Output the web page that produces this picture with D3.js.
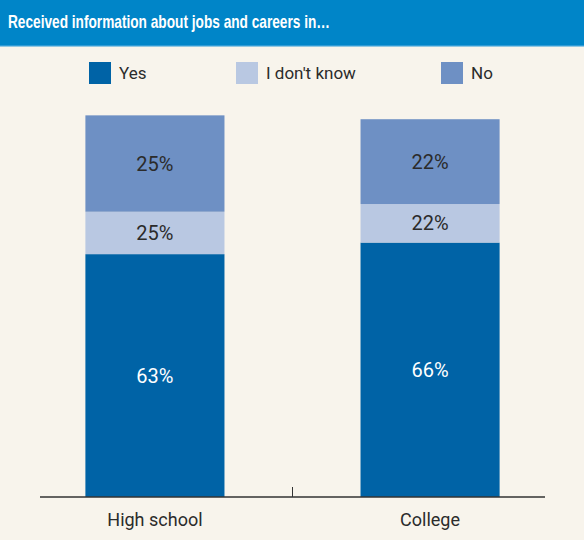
<!DOCTYPE html>
<html>
<head>
<meta charset="utf-8">
<script src="https://cdn.jsdelivr.net/npm/d3@7"></script>
<style>
  body { margin: 0; background: #f8f4ec; }
  svg { display: block; }
</style>
</head>
<body>
<svg id="chart" width="584" height="540"></svg>
<script>
// data
var categories = ["High school", "College"]
var seriesNames = ["Yes", "I don't know", "No"]
var yesValues = [63, 66]
var idkValues = [11, 10]
var noValues = [25, 22]
// printed labels as they appear on the chart
var yesLabels = ["63%", "66%"]
var idkLabels = ["25%", "22%"]
var noLabels = ["25%", "22%"]

var colors = ["#0063a6", "#b9c8e2", "#6e90c4"]
var labelColors = ["#ffffff", "#2b2b2b", "#2b2b2b"]

var svg = d3.select("#chart")

// background + header
svg.append("rect").attr("x", 0).attr("y", 0).attr("width", 584).attr("height", 540).attr("fill", "#f8f4ec")
svg.append("rect").attr("x", 0).attr("y", 0).attr("width", 584).attr("height", 46).attr("fill", "#0085c8")
svg.append("rect").attr("x", 0).attr("y", 45).attr("width", 584).attr("height", 1.5).attr("fill", "#2f9bd6")
svg.append("text").attr("x", 8).attr("y", 28)
  .text("Received information about jobs and careers in\u2026")
  .attr("font-family", "'Liberation Sans Narrow', 'Liberation Sans', sans-serif")
  .attr("font-weight", "bold").attr("font-size", "19px").attr("fill", "#ffffff")
  .attr("textLength", 322).attr("lengthAdjust", "spacingAndGlyphs")

// legend
var legendX = [89, 236, 441]
seriesNames.forEach(function(name, i) {
  svg.append("rect").attr("x", legendX[i]).attr("y", 62).attr("width", 22).attr("height", 22).attr("fill", colors[i])
  svg.append("text").attr("x", legendX[i] + 30).attr("y", 79).text(name)
    .attr("font-family", "Roboto, sans-serif").attr("font-size", "17px").attr("fill", "#2b2b2b")
})

// scales
var x = d3.scaleBand().domain(categories).range([40, 545]).paddingInner(0.4945).paddingOuter(0.165)
var y = d3.scaleLinear().domain([0, 100]).range([497, 111.5])

var rows = categories.map(function(c, i) {
  return { cat: c, "Yes": yesValues[i], "I don't know": idkValues[i], "No": noValues[i] }
})
var labels = [yesLabels, idkLabels, noLabels]
var stack = d3.stack().keys(seriesNames)(rows)

var g = svg.append("g")
stack.forEach(function(layer, si) {
  layer.forEach(function(d, ci) {
    g.append("rect")
      .attr("x", x(d.data.cat)).attr("width", x.bandwidth())
      .attr("y", y(d[1])).attr("height", y(d[0]) - y(d[1]))
      .attr("fill", colors[si])
    g.append("text")
      .attr("x", x(d.data.cat) + x.bandwidth() / 2)
      .attr("y", (y(d[0]) + y(d[1])) / 2)
      .attr("text-anchor", "middle").attr("dominant-baseline", "central")
      .attr("font-family", "Roboto, sans-serif").attr("font-size", "20px")
      .attr("fill", labelColors[si])
      .text(labels[si][ci])
  })
})

// axis
svg.append("line").attr("x1", 40).attr("x2", 545).attr("y1", 497).attr("y2", 497)
  .attr("stroke", "#333").attr("stroke-width", 1.5)
svg.append("line").attr("x1", 292.5).attr("x2", 292.5).attr("y1", 487).attr("y2", 497)
  .attr("stroke", "#333").attr("stroke-width", 1)
categories.forEach(function(c) {
  svg.append("text").attr("x", x(c) + x.bandwidth() / 2).attr("y", 526)
    .attr("text-anchor", "middle").text(c)
    .attr("font-family", "Roboto, sans-serif").attr("font-size", "18px").attr("fill", "#2b2b2b")
})
</script>
</body>
</html>
